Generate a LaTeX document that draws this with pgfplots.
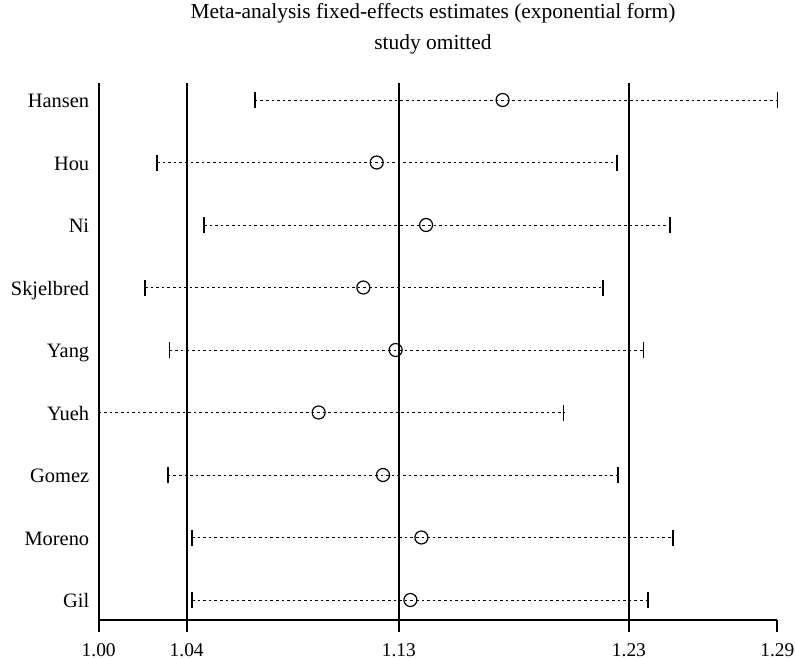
\documentclass[border=0pt]{standalone}
\usepackage{fontspec}
\setmainfont{Liberation Serif}
\usepackage{pgfplots}
\usepackage{pgfplotstable}
\pgfplotsset{compat=1.18}
\pgfplotstableread{
name lo est hi y
Hansen 1.0667 1.1726 1.2900 9
Hou 1.0249 1.1188 1.2215 8
Ni 1.0450 1.1399 1.2442 7
Skjelbred 1.0198 1.1131 1.2155 6
Yang 1.0303 1.1269 1.2329 5
Yueh 1.0000 1.0940 1.1987 4
Gomez 1.0295 1.1215 1.2219 3
Moreno 1.0399 1.1379 1.2454 2
Gil 1.0399 1.1332 1.2347 1
}\data
\begin{document}
\begin{tikzpicture}
\useasboundingbox (-98.7bp,-39bp) rectangle (696.3bp,620bp);
\begin{axis}[
  at={(0,0)}, anchor=south west,
  scale only axis, width=678.6bp, height=537.3bp,
  xmin=1.00, xmax=1.29, ymin=0.68, ymax=9.277,
  axis x line*=bottom, axis y line*=left,
  axis line style={-, line width=1.7bp, black},
  xtick={1.00,1.0376,1.1283,1.2266,1.29},
  xticklabels={1.00,1.04,1.13,1.23,1.29},
  ytick={1,...,9},
  yticklabels={Gil,Moreno,Gomez,Yueh,Yang,Skjelbred,Ni,Hou,Hansen},
  tick align=outside, major tick length=12bp,
  x tick style={line width=1.7bp, black},
  y tick style={draw=none},
  xticklabel style={font=\fontsize{19.5}{22}\selectfont, inner sep=1bp, text depth=0pt, yshift=-10bp},
  yticklabel style={font=\fontsize{20.5}{23}\selectfont, anchor=base east, yshift=-7.5bp, xshift=6bp},
  clip=false,
]
\addplot[black, line width=1.7bp] coordinates {(1.0376,0.68) (1.0376,9.277)};
\addplot[black, line width=1.7bp] coordinates {(1.1283,0.68) (1.1283,9.277)};
\addplot[black, line width=1.7bp] coordinates {(1.2266,0.68) (1.2266,9.277)};
\addplot[black, line width=1bp, dash pattern=on 2.6bp off 3bp, unbounded coords=jump] coordinates {
(1.0667,9) (1.2900,9) (nan,nan)
(1.0249,8) (1.2215,8) (nan,nan)
(1.0450,7) (1.2442,7) (nan,nan)
(1.0198,6) (1.2155,6) (nan,nan)
(1.0303,5) (1.2329,5) (nan,nan)
(1.0000,4) (1.1987,4) (nan,nan)
(1.0295,3) (1.2219,3) (nan,nan)
(1.0399,2) (1.2454,2) (nan,nan)
(1.0399,1) (1.2347,1)
};
\addplot[only marks, mark=|, mark size=8bp, mark options={line width=1.6bp, black}] table[x=lo, y=y] {\data};
\addplot[only marks, mark=|, mark size=8bp, mark options={line width=1.6bp, black}] table[x=hi, y=y] {\data};
\addplot[only marks, mark=o, mark size=6.5bp, mark options={line width=1.2bp, fill=white, draw=black}] table[x=est, y=y] {\data};
\end{axis}
\node[anchor=base, font=\fontsize{21.5}{24}\selectfont] at (334.3bp,601bp) {Meta-analysis fixed-effects estimates (exponential form)};
\node[anchor=base, font=\fontsize{21.5}{24}\selectfont] at (334.3bp,570.5bp) {study omitted};
\end{tikzpicture}
\end{document}
